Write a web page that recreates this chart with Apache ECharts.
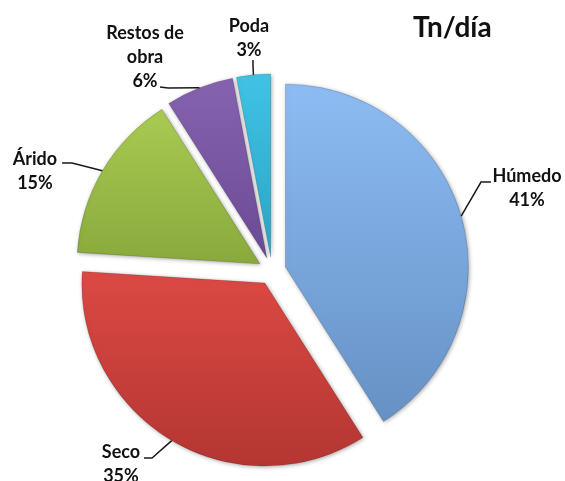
<!DOCTYPE html>
<html>
<head>
<meta charset="utf-8">
<script src="https://cdn.jsdelivr.net/npm/echarts@6/dist/echarts.min.js"></script>
<style>
  html, body { margin: 0; padding: 0; background: #fff; }
  #chart { width: 565px; height: 481px; }
</style>
</head>
<body>
<div id="chart"></div>
<script>
// datos
var categories = ['Húmedo', 'Seco', 'Árido', 'Restos de obra', 'Poda'];
var values = [41, 35, 15, 6, 3];

// colores (arriba, abajo)
var topColors = ['#8cbcf3', '#dc4944', '#a9ca52', '#8663b0', '#40c3e5'];
var bottomColors = ['#6691c5', '#b43632', '#89a93c', '#6b4a95', '#2aa5c5'];

// etiquetas: centro del bloque de texto, codo y final de la linea guia
var labelPos = [[527, 188], [121, 464], [35, 171], [145, 57], [249, 38]];
var lineElbow = [[481, 182], [152, 458], [72, 163], [168, 88], [253, 66]];
var lineEnd = [[491, 182], [144, 458], [62, 163], [160, 87], [253, 60]];

var sliceOffset = 14;
var total = values.reduce(function (a, b) { return a + b; }, 0);

var myChart = echarts.init(document.getElementById('chart'));

var pieData = categories.map(function (name, i) {
    return {
        name: name,
        value: values[i],
        selected: true,
        itemStyle: {
            color: new echarts.graphic.LinearGradient(0, 0, 0, 1, [
                { offset: 0, color: topColors[i] },
                { offset: 1, color: bottomColors[i] }
            ])
        }
    };
});

var option = {
    animation: false,
    title: {
        text: 'Tn/día',
        left: 408,
        top: 9,
        textStyle: {
            fontFamily: 'Lato',
            fontWeight: 'bold',
            fontSize: 28,
            color: '#111'
        }
    },
    series: [{
        type: 'pie',
        center: [272, 271],
        radius: 183,
        startAngle: 90,
        selectedMode: 'multiple',
        selectedOffset: sliceOffset,
        emphasis: { disabled: true },
        itemStyle: {
            borderColor: 'rgba(0,0,0,0.15)',
            borderWidth: 1,
            shadowBlur: 4,
            shadowColor: 'rgba(0,0,0,0.35)',
            shadowOffsetX: 1,
            shadowOffsetY: 1
        },
        label: { show: false },
        labelLine: { show: false },
        data: pieData
    }]
};

myChart.setOption(option);

// lineas guia desde el borde de cada sector (layout del pie) hasta la etiqueta
var data = myChart.getModel().getSeriesByIndex(0).getData();
var graphics = [];
categories.forEach(function (name, i) {
    var l = data.getItemLayout(i);
    var mid = (l.startAngle + l.endAngle) / 2;
    var sx = l.cx + Math.cos(mid) * (l.r + sliceOffset);
    var sy = l.cy + Math.sin(mid) * (l.r + sliceOffset);
    graphics.push({
        type: 'polyline',
        shape: { points: [[sx, sy], lineElbow[i], lineEnd[i]] },
        style: { stroke: '#1a1a1a', lineWidth: 1.5, fill: null },
        z: 10
    });
    var pct = Math.round(values[i] / total * 100);
    graphics.push({
        type: 'text',
        x: labelPos[i][0],
        y: labelPos[i][1],
        style: {
            text: name.replace('Restos de ', 'Restos de\n') + '\n' + pct + '%',
            align: 'center',
            verticalAlign: 'middle',
            fontFamily: 'Lato',
            fontWeight: 'bold',
            fontSize: 18,
            lineHeight: 24,
            fill: '#111'
        },
        z: 10
    });
});

myChart.setOption({ graphic: graphics });
</script>
</body>
</html>
